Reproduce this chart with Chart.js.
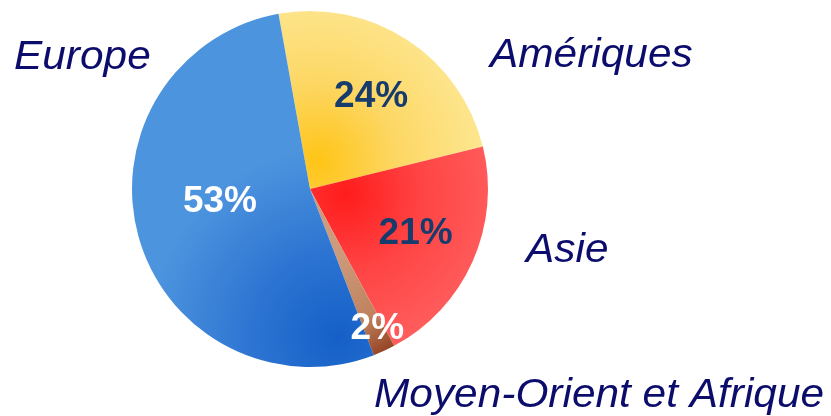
<!DOCTYPE html>
<html>
<head>
<meta charset="utf-8">
<script src="https://cdn.jsdelivr.net/npm/chart.js@4"></script>
<style>
html,body{margin:0;padding:0;background:#fff;}
#wrap{width:831px;height:416px;position:relative;}
</style>
</head>
<body>
<div id="wrap"><canvas id="c" width="831" height="416"></canvas></div>
<script>
// ---- data ----
const categories = ['Amériques', 'Asie', 'Moyen-Orient et Afrique', 'Europe'];
const shares = [24, 21, 2, 53];
const pctLabels = ['24%', '21%', '2%', '53%'];

// ---- styling / layout (not data) ----
const navy = '#0c0c6c';
const pctColors = ['#153c6c', '#153c6c', '#ffffff', '#ffffff'];
const pctRadius = [0.63, 0.64, 0.86, 0.51];
const pctAngleShift = [0, -2, -1.5, 8.5]; // degrees
const nameAnchors = [ // left x, baseline y
  [490, 67], [526, 262], [374, 407], [14, 69]
];

function grad(ctx, idx, area) {
  const cx = (area.left + area.right) / 2;
  const cy = (area.top + area.bottom) / 2;
  let g;
  if (idx === 0) {
    g = ctx.createRadialGradient(cx + 8, cy - 28, 0, cx + 8, cy - 28, 175);
    g.addColorStop(0, '#ffc416');
    g.addColorStop(0.45, '#fdd764');
    g.addColorStop(1, '#fde895');
  } else if (idx === 1) {
    g = ctx.createRadialGradient(cx + 35, cy + 5, 0, cx + 35, cy + 5, 160);
    g.addColorStop(0, '#ff1c1c');
    g.addColorStop(0.5, '#ff4545');
    g.addColorStop(1, '#ff5e5e');
  } else if (idx === 2) {
    g = ctx.createLinearGradient(cx + 20, cy + 70, cx + 80, cy + 170);
    g.addColorStop(0, '#cd9a7c');
    g.addColorStop(0.6, '#c0825e');
    g.addColorStop(1, '#8a3516');
  } else {
    g = ctx.createRadialGradient(cx + 28, cy + 148, 0, cx + 28, cy + 148, 190);
    g.addColorStop(0, '#1460c8');
    g.addColorStop(0.45, '#2d74d2');
    g.addColorStop(1, '#4d94de');
  }
  return g;
}

const textPlugin = {
  id: 'texts',
  afterDatasetsDraw(chart) {
    const ctx = chart.ctx;
    const meta = chart.getDatasetMeta(0);
    ctx.save();
    ctx.textAlign = 'center';
    ctx.textBaseline = 'middle';
    ctx.font = 'bold 37px "Liberation Sans", Arial, sans-serif';
    meta.data.forEach((arc, i) => {
      const p = arc.getProps(['x', 'y', 'startAngle', 'endAngle', 'outerRadius'], true);
      const mid = (p.startAngle + p.endAngle) / 2 + pctAngleShift[i] * Math.PI / 180;
      const r = p.outerRadius * pctRadius[i];
      ctx.fillStyle = pctColors[i];
      ctx.fillText(pctLabels[i], p.x + Math.cos(mid) * r, p.y + Math.sin(mid) * r + 2);
    });
    ctx.textAlign = 'left';
    ctx.textBaseline = 'alphabetic';
    ctx.font = 'italic 40px "Liberation Sans", Arial, sans-serif';
    ctx.fillStyle = navy;
    categories.forEach((name, i) => {
      const [x, y] = nameAnchors[i];
      ctx.save();
      ctx.translate(x, y);
      ctx.scale(1.06, 1);
      ctx.fillText(name, 0, 0);
      ctx.restore();
    });
    ctx.restore();
  }
};

new Chart(document.getElementById('c'), {
  type: 'pie',
  data: {
    labels: categories,
    datasets: [{
      data: shares,
      borderWidth: 0,
      hoverOffset: 0,
      backgroundColor: (c) => {
        const area = c.chart.chartArea;
        if (!area) return '#4d94de';
        return grad(c.chart.ctx, c.dataIndex, area);
      }
    }]
  },
  options: {
    responsive: false,
    animation: false,
    events: [],
    rotation: -10.2,
    layout: { padding: { left: 132, right: 343, top: 11, bottom: 49 } },
    plugins: { legend: { display: false }, tooltip: { enabled: false } }
  },
  plugins: [textPlugin]
});
</script>
</body>
</html>
